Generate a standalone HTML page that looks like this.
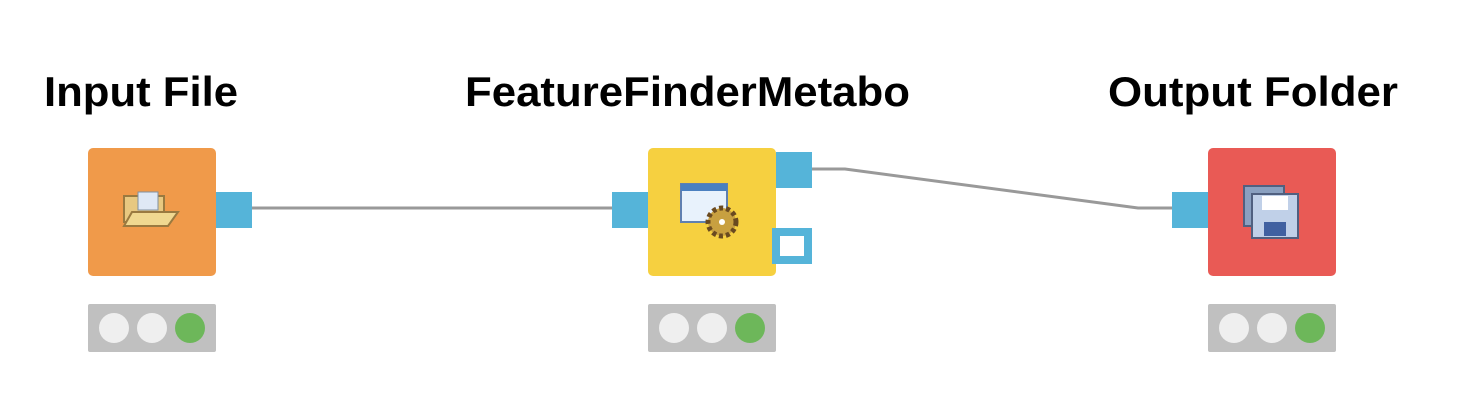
<!DOCTYPE html>
<html><head><style>body{margin:0;background:#fff}svg{display:block}</style></head>
<body>
<svg width="1468" height="416" xmlns="http://www.w3.org/2000/svg">
<g font-family="Liberation Sans, Arial, sans-serif" font-weight="bold" font-size="42" fill="#000">
<text x="44" y="106" textLength="194" lengthAdjust="spacingAndGlyphs">Input File</text>
<text x="465" y="106" textLength="445" lengthAdjust="spacingAndGlyphs">FeatureFinderMetabo</text>
<text x="1108" y="106" textLength="290" lengthAdjust="spacingAndGlyphs">Output Folder</text>
</g>
<g stroke="#999" stroke-width="3" fill="none">
<line x1="252" y1="208" x2="612" y2="208"/>
<polyline points="812,169 845,169 1138,208 1172,208"/>
</g>
<!-- nodes -->
<rect x="88" y="148" width="128" height="128" rx="5" fill="#f09a4a"/>
<rect x="648" y="148" width="128" height="128" rx="5" fill="#f6d040"/>
<rect x="1208" y="148" width="128" height="128" rx="5" fill="#e95a55"/>
<!-- ports -->
<g fill="#55b4d9">
<rect x="216" y="192" width="36" height="36"/>
<rect x="612" y="192" width="36" height="36"/>
<rect x="776" y="152" width="36" height="36"/>
<rect x="1172" y="192" width="36" height="36"/>
</g>
<rect x="776" y="232" width="32" height="28" fill="#fff" stroke="#55b4d9" stroke-width="8"/>
<!-- icons -->
<g>
<rect x="124" y="196" width="40" height="26" fill="#e8c880" stroke="#9a7a40" stroke-width="2"/>
<rect x="138" y="192" width="20" height="18" fill="#dfe8f5" stroke="#8090a0"/>
<polygon points="124,226 132,212 178,212 168,226" fill="#f0d890" stroke="#9a7a40" stroke-width="2"/>
<rect x="681" y="184" width="46" height="38" fill="#e8f2fc" stroke="#6080b0" stroke-width="2"/>
<rect x="681" y="184" width="46" height="7" fill="#4a80c0"/>
<circle cx="722" cy="222" r="14" fill="#c8a040" stroke="#6a4a20" stroke-width="5" stroke-dasharray="4 3"/>
<circle cx="722" cy="222" r="3" fill="#fff"/>
<rect x="1244" y="186" width="40" height="40" fill="#8aa0c0" stroke="#506080" stroke-width="2"/>
<rect x="1252" y="194" width="46" height="44" fill="#c0d0e8" stroke="#506080" stroke-width="2"/>
<rect x="1262" y="196" width="26" height="14" fill="#fff"/>
<rect x="1264" y="222" width="22" height="14" fill="#4060a0"/>
</g>
<!-- status -->
<g>
<rect x="88" y="304" width="128" height="48" rx="2" fill="#c0c0c0"/>
<rect x="648" y="304" width="128" height="48" rx="2" fill="#c0c0c0"/>
<rect x="1208" y="304" width="128" height="48" rx="2" fill="#c0c0c0"/>
<g fill="#efefef">
<circle cx="114" cy="328" r="15"/><circle cx="152" cy="328" r="15"/>
<circle cx="674" cy="328" r="15"/><circle cx="712" cy="328" r="15"/>
<circle cx="1234" cy="328" r="15"/><circle cx="1272" cy="328" r="15"/>
</g>
<g fill="#6db75a">
<circle cx="190" cy="328" r="15"/><circle cx="750" cy="328" r="15"/><circle cx="1310" cy="328" r="15"/>
</g>
</g>
</svg>
</body></html>
